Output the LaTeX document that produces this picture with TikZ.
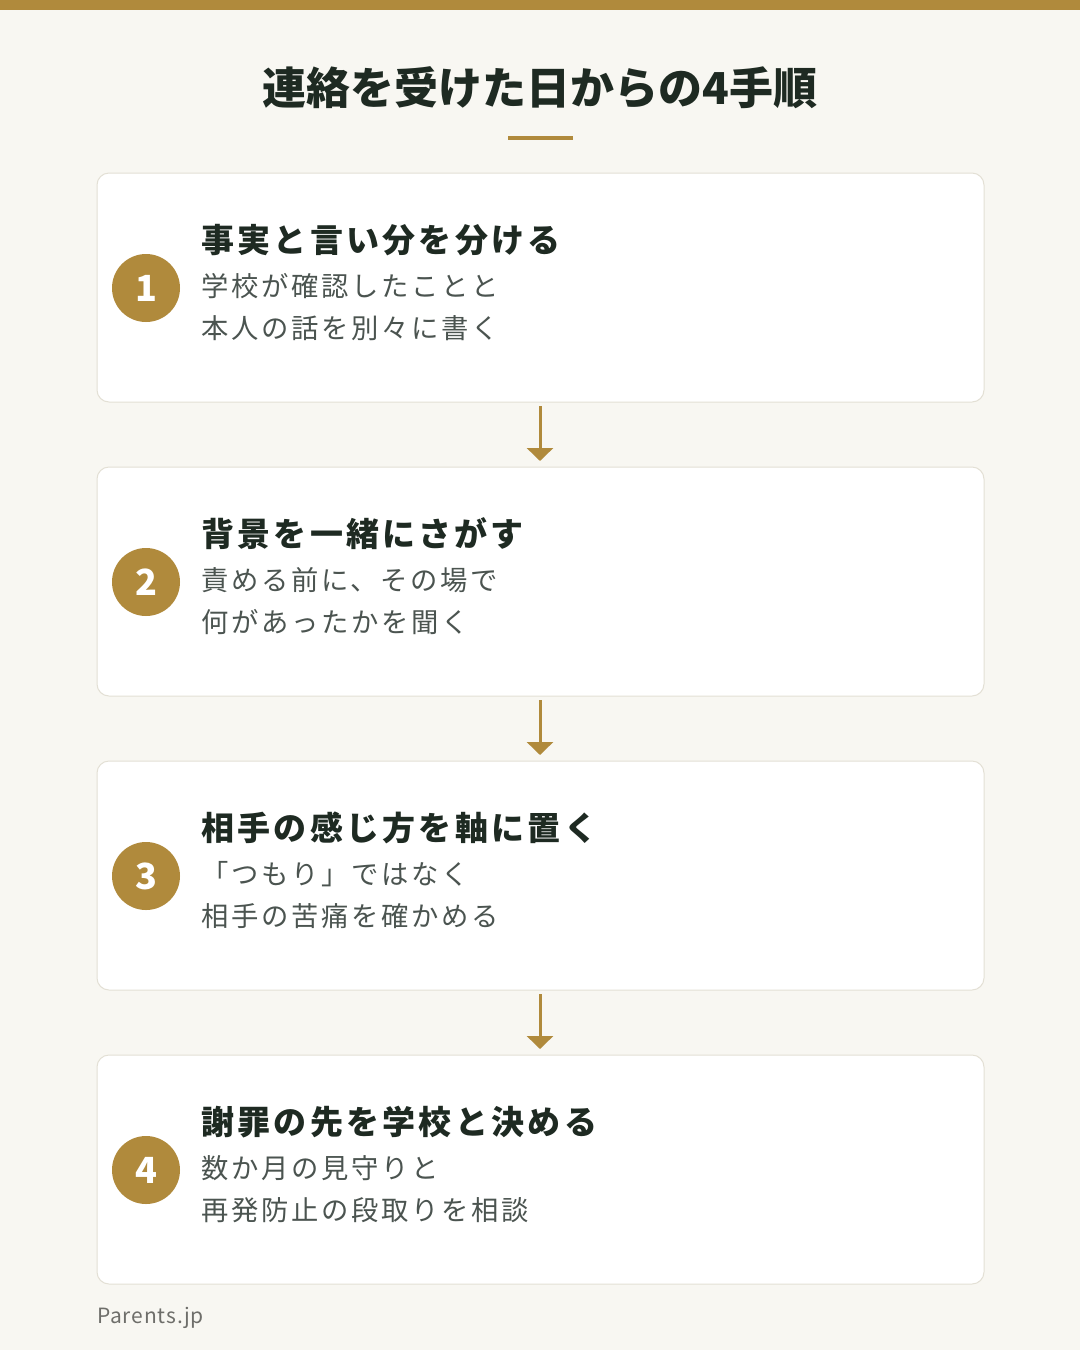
\documentclass[tikz,border=0pt]{standalone}
\usepackage{fontspec}
\setmainfont{Noto Sans CJK JP}
\newfontfamily\jpls[LetterSpace=10]{Noto Sans CJK JP}
\newfontfamily\jpft[LetterSpace=4]{Noto Sans CJK JP}
\usetikzlibrary{arrows.meta}
\definecolor{gold}{HTML}{B08A3C}
\definecolor{bgc}{HTML}{F8F7F2}
\definecolor{cardline}{HTML}{E3E0D5}
\definecolor{headc}{HTML}{1E2A22}
\definecolor{bodyc}{HTML}{4B5450}
\definecolor{footc}{HTML}{6E6E6A}
\tikzset{
  card/.style={draw=cardline, line width=1pt, fill=white, rounded corners=12pt},
  numcirc/.style={circle, fill=gold, minimum size=68pt, inner sep=0pt, text=white, font=\bfseries\fontsize{36}{40}\selectfont},
  headtxt/.style={anchor=base west, inner sep=0pt, text=headc, font=\jpls\bfseries\fontsize{33}{38}\selectfont},
  bodytxt/.style={anchor=base west, inner sep=0pt, text=bodyc, font=\jpls\fontsize{27.3}{32}\selectfont},
  flow/.style={draw=gold, line width=3pt, -{Triangle[length=13pt,width=26pt]}}
}
\begin{document}
\begin{tikzpicture}[x=1pt,y=-1pt]
\fill[bgc] (0,0) rectangle (1080,1350);
\useasboundingbox (0,0) rectangle (1080,1350);
\fill[gold] (0,0) rectangle (1080,10);
\node[anchor=base, inner sep=0pt, text=headc, font=\bfseries\fontsize{44}{50}\selectfont] (title) at (540,104) {連絡を受けた日からの4手順};
\fill[gold] (508,136) rectangle (573,140);
% cards
\foreach \i/\t/\h/\a/\b in {
  1/173/事実と言い分を分ける/学校が確認したことと/本人の話を別々に書く,
  2/467/背景を一緒にさがす/責める前に、その場で/何があったかを聞く,
  3/761/相手の感じ方を軸に置く/「つもり」ではなく/相手の苦痛を確かめる,
  4/1055/謝罪の先を学校と決める/数か月の見守りと/再発防止の段取りを相談}{
  \draw[card] (97,\t) rectangle (984,\t+229);
  \coordinate (top\i) at (540,\t);
  \coordinate (bot\i) at (540,\t+229);
  \node[numcirc] (n\i) at (146,\t+115) {\i};
  \node[headtxt] (h\i) at (201,\t+79) {\h};
  \node[bodytxt] (a\i) at (201,\t+123) {\a};
  \node[bodytxt] (b\i) at (201,\t+165) {\b};
}
\draw[flow] ([yshift=-4pt]bot1) -- ([yshift=6pt]top2);
\draw[flow] ([yshift=-4pt]bot2) -- ([yshift=6pt]top3);
\draw[flow] ([yshift=-4pt]bot3) -- ([yshift=6pt]top4);
\node[anchor=base west, inner sep=0pt, text=footc, font=\jpft\fontsize{21}{24}\selectfont] (foot) at (97,1323) {Parents.jp};
\end{tikzpicture}
\end{document}
